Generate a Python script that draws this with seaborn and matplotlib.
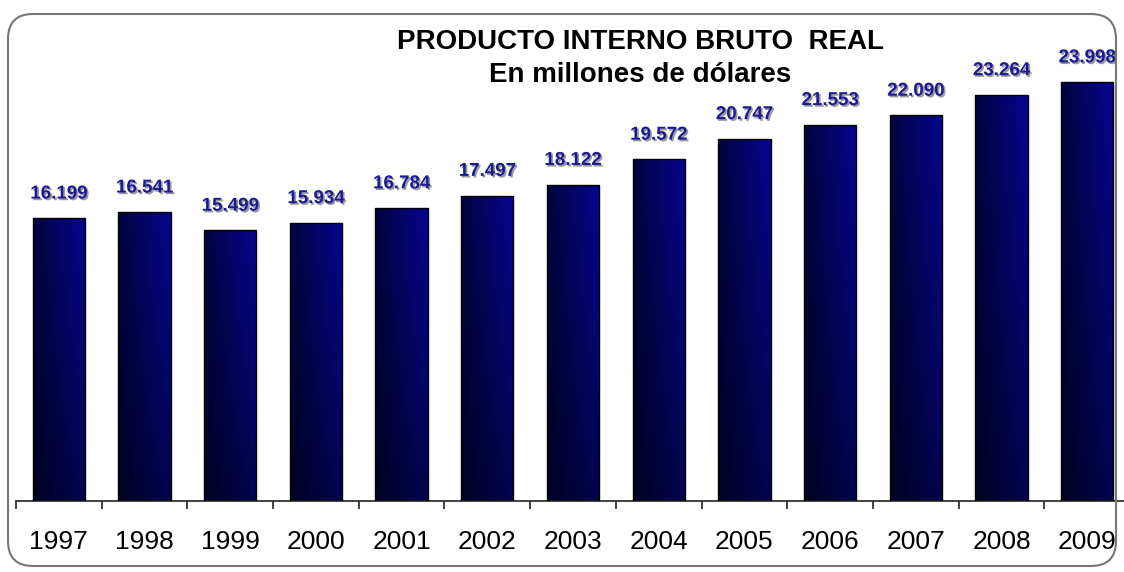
import numpy as np
import pandas as pd
import matplotlib
matplotlib.use("Agg")
import matplotlib.pyplot as plt
import matplotlib.patheffects as pe
from matplotlib.patches import FancyBboxPatch
from matplotlib.ticker import FixedLocator, NullFormatter
import seaborn as sns

years = ["1997", "1998", "1999", "2000", "2001", "2002", "2003",
         "2004", "2005", "2006", "2007", "2008", "2009"]
pib = [16199, 16541, 15499, 15934, 16784, 17497, 18122,
       19572, 20747, 21553, 22090, 23264, 23998]
title_line1 = "PRODUCTO INTERNO BRUTO  REAL"
title_line2 = "En millones de dólares"

sns.set_theme(style="white")
plt.rcParams["font.family"] = ["Liberation Sans", "DejaVu Sans"]

W, H = 1124, 572
fig = plt.figure(figsize=(W / 100, H / 100), dpi=100)
ax = fig.add_axes([16 / W, (H - 501) / H, (1130 - 16) / W, (501 - 14) / H])
ax.patch.set_alpha(0)

df = pd.DataFrame({"year": years, "pib": pib})
sns.barplot(data=df, x="year", y="pib", ax=ax, width=0.61,
            color="#000060", edgecolor="black", linewidth=1.0, saturation=1)

# gradient fill clipped to each bar
nu, nv = 64, 64
u = np.linspace(0, 1, nu)[None, :]
v = np.linspace(0, 1, nv)[:, None]  # 0 bottom -> 1 top
blue = (0.24 + 0.33 * u) * (0.55 + 0.45 * v)
img = np.dstack([blue * 0.04, blue * 0.04, blue])
for p in list(ax.patches):
    x0, y0 = p.get_x(), p.get_y()
    w, h = p.get_width(), p.get_height()
    im = ax.imshow(img, extent=[x0, x0 + w, y0, y0 + h], origin="lower",
                   aspect="auto", zorder=2, interpolation="bilinear")
    im.set_clip_path(p)
    p.set_facecolor("none")
    p.set_zorder(3)

# value labels
for i, val in enumerate(pib):
    s = f"{val:,}".replace(",", ".")
    ax.text(i, val + 900, s, ha="center", va="bottom", fontsize=13.5,
            fontweight="bold", color="#1a1a96", zorder=4,
            path_effects=[pe.withSimplePatchShadow(offset=(1.2, -1.2),
                                                   shadow_rgbFace="#555555",
                                                   alpha=0.6)])

ax.set_xlim(-0.5, len(years) - 0.5)
ax.set_ylim(0, 27900)
ax.set_yticks([])
ax.set_xlabel("")
ax.set_ylabel("")
for s in ["top", "right", "left"]:
    ax.spines[s].set_visible(False)
ax.spines["bottom"].set_color("#222222")
ax.spines["bottom"].set_linewidth(1.2)
ax.tick_params(axis="x", which="major", length=0, labelsize=19,
               labelcolor="black", pad=21)
ax.xaxis.set_minor_locator(FixedLocator(np.arange(-0.5, len(years), 1.0)))
ax.xaxis.set_minor_formatter(NullFormatter())
ax.tick_params(axis="x", which="minor", length=6, width=1.2,
               color="#222222", bottom=True, direction="out")

fig.text(640 / W, 1 - 42 / H, title_line1, ha="center", va="center",
         fontsize=20, fontweight="bold", color="black")
fig.text(640 / W, 1 - 75 / H, title_line2, ha="center", va="center",
         fontsize=20, fontweight="bold", color="black")

frame = FancyBboxPatch((0.08, 0.06), 11.08, 5.52,
                       boxstyle="round,pad=0,rounding_size=0.25",
                       transform=fig.dpi_scale_trans, fill=False,
                       edgecolor="#777777", linewidth=1.5, zorder=0)
fig.patches.append(frame)

fig.savefig("out.png", dpi=100, facecolor="white")
